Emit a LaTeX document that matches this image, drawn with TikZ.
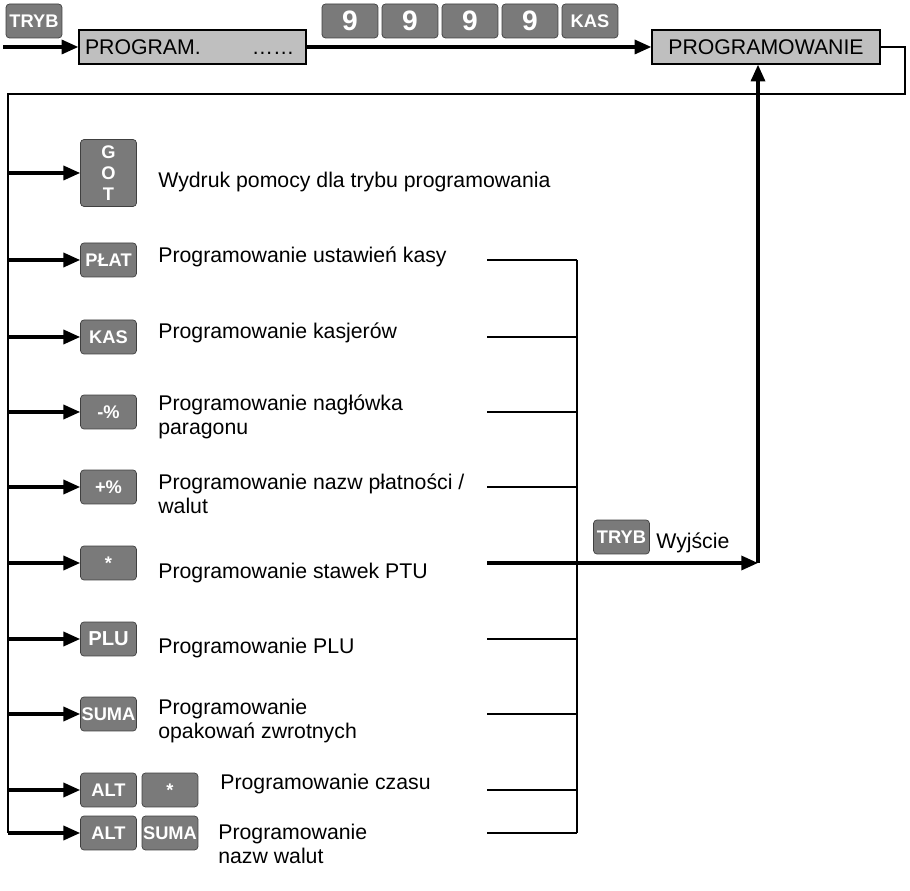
\documentclass[tikz,border=0pt]{standalone}
\usepackage{fontspec}
\setmainfont{Liberation Sans}
\usetikzlibrary{arrows.meta}
\usetikzlibrary{positioning}
\tikzset{
    key/.style = {rectangle, rounded corners=2pt, draw=black!75, fill=black!52, text=white, align=center, inner sep=0pt, font=\fontsize{10.4}{12}\selectfont\bfseries, minimum width=1.12cm, minimum height=0.68cm},
    bigkey/.style = {key, font=\fontsize{16}{16}\selectfont\bfseries},
    menubox/.style = {rectangle, draw=black, line width=0.8pt, fill=black!25, inner sep=0pt, font=\fontsize{12.1}{14}\selectfont, minimum width=4.56cm, minimum height=0.68cm},
    lbl/.style = {anchor=west, align=left, inner sep=0pt, font=\fontsize{12.1}{13.6}\selectfont},
}
\begin{document}
\begin{tikzpicture}[x=0.02cm, y=-0.02cm]
\tikzset{
    flow/.style = {line width=1.8pt, -{Triangle[length=9.5pt,width=8pt]}},
    wire/.style = {line width=0.75pt},
}
\useasboundingbox (0,0) rectangle (910,891);
% top line
\node[key] at (34,21) (tryba) {TRYB};
\coordinate (start) at (3,47);
\node[menubox, minimum width=4.54cm, text width=4.3cm, align=left] at (192.5,47) (prog) {PROGRAM.\hspace{2.4em}……};
\node[bigkey] at (350,21) (ninea) {9};
\node[bigkey] at (410,21) (nineb) {9};
\node[bigkey] at (470,21) (ninec) {9};
\node[bigkey] at (530,21) (nined) {9};
\node[key] at (590,21) (kas) {KAS};
\node[menubox] at (766,47) (progr) {PROGRAMOWANIE};
\draw[flow] (start) -- (prog);
\draw[flow] (prog) -- (progr);
%
\coordinate (rt) at (905,94);
\coordinate (lt) at (8,94);
\coordinate (lb) at (8,833);
\draw[wire] (progr.east) -| (rt) -- (lt) -- (lb);
% keys
\node[key, minimum height=1.34cm] at (108.5,173) (got) {G\\O\\T};
\node[key] at (108.5,260) (plat) {PŁAT};
\node[key] at (108.5,337) (kask) {KAS};
\node[key] at (108.5,412) (minus) {-\%};
\node[key] at (108.5,487) (plus) {+\%};
\node[key] at (108.5,563) (star) {*};
\node[key, font=\fontsize{11.5}{12}\selectfont\bfseries] at (108.5,639) (plu) {PLU};
\node[key] at (108.5,714) (suma) {SUMA};
\node[key] at (108.5,790) (alta) {ALT};
\node[key] at (170,790) (starb) {*};
\node[key] at (108.5,833) (altb) {ALT};
\node[key] at (170,833) (sumab) {SUMA};
%
\draw[flow] (lt |- got) -- (got);
\draw[flow] (lt |- plat) -- (plat);
\draw[flow] (lt |- kask) -- (kask);
\draw[flow] (lt |- minus) -- (minus);
\draw[flow] (lt |- plus) -- (plus);
\draw[flow] (lt |- star) -- (star);
\draw[flow] (lt |- plu) -- (plu);
\draw[flow] (lt |- suma) -- (suma);
\draw[flow] (lt |- alta) -- (alta);
\draw[flow] (lb) -- (altb);
% labels
\node[lbl] at (158,182) (lgot) {Wydruk pomocy dla trybu programowania};
\node[lbl] at (158,257) (lplat) {Programowanie ustawień kasy};
\node[lbl] at (158,333) (lkas) {Programowanie kasjerów};
\node[lbl] at (158,417) (lminus) {Programowanie nagłówka\\paragonu};
\node[lbl] at (158,494) (lplus) {Programowanie nazw płatności /\\walut};
\node[lbl] at (158,573) (lstar) {Programowanie stawek PTU};
\node[lbl] at (158,648) (lplu) {Programowanie PLU};
\node[lbl] at (158,721) (lsuma) {Programowanie\\opakowań zwrotnych};
\node[lbl] at (220,784) (lalta) {Programowanie czasu};
\node[lbl] at (218,844) (laltb) {Programowanie\\nazw walut};
% exit
\coordinate (tail) at (487,0);
\coordinate (bus) at (577,0);
\coordinate (exit) at (758,563);
\draw[wire] (tail |- plat) -- (bus |- plat);
\draw[wire] (tail |- kask) -- (bus |- kask);
\draw[wire] (tail |- minus) -- (bus |- minus);
\draw[wire] (tail |- plus) -- (bus |- plus);
\draw[wire] (tail |- plu) -- (bus |- plu);
\draw[wire] (tail |- suma) -- (bus |- suma);
\draw[wire] (tail |- alta) -- (bus |- alta);
\draw[wire] (tail |- altb) -- (bus |- altb);
\draw[wire] (bus |- plat) -- (bus |- altb);
\draw[flow] (tail |- star) -- (exit);
\draw[flow] (exit) -- (exit |- progr.south);
\node[key] at (621.5,537) (trybx) {TRYB};
\node[lbl] at (656,543) (wyj) {Wyjście};
\end{tikzpicture}
\end{document}
